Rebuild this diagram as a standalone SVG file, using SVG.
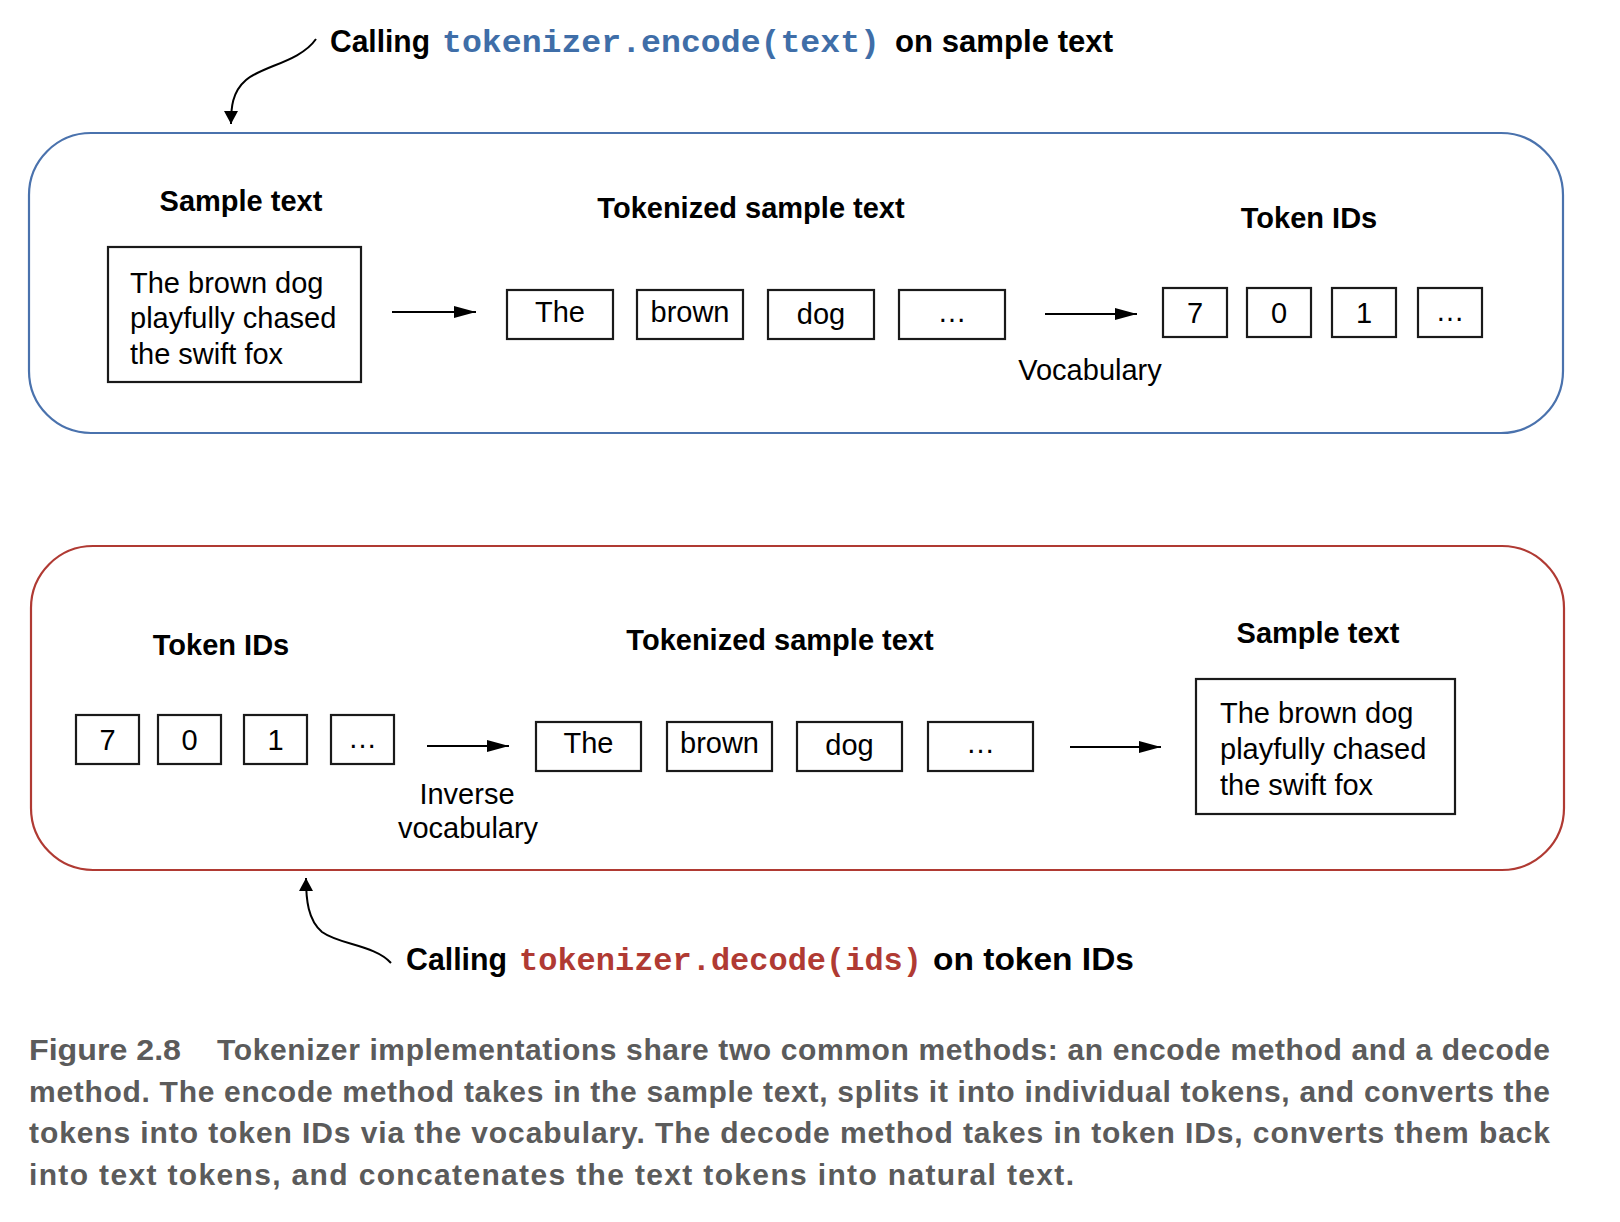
<svg xmlns="http://www.w3.org/2000/svg" width="1620" height="1222" viewBox="0 0 1620 1222">
<defs>
<style>
.bg{fill:#fff}
.pEnc{fill:none;stroke:#4a72ad;stroke-width:2.2}
.pDec{fill:none;stroke:#b03a33;stroke-width:2.2}
.box{fill:#fff;stroke:#1a1a1a;stroke-width:2.2}
.lbl{font-family:"Liberation Sans",Arial,sans-serif;font-size:29px;font-weight:bold;fill:#000;text-anchor:middle}
.tok{font-family:"Liberation Sans",Arial,sans-serif;font-size:29px;fill:#000;text-anchor:middle}
.body{font-family:"Liberation Sans",Arial,sans-serif;font-size:29px;fill:#000}
.conn{stroke:#000;stroke-width:2;fill:none}
.ann{font-family:"Liberation Sans",Arial,sans-serif;font-size:31px;font-weight:bold;fill:#000}
.code{font-family:"Liberation Mono","Courier New",monospace;font-size:32px;font-weight:bold}
.blue{fill:#3f6ea8}
.red{fill:#b03a33}
.cap{font-family:"Liberation Sans",Arial,sans-serif;font-size:30px;font-weight:bold;fill:#5b5b5b}
</style>
<marker id="ah" markerUnits="userSpaceOnUse" markerWidth="22" markerHeight="12" refX="22" refY="6" orient="auto">
<path d="M0,0 L22,6 L0,12 z" fill="#000"/>
</marker>
<marker id="ahc" markerUnits="userSpaceOnUse" markerWidth="13" markerHeight="14" refX="13" refY="7" orient="auto">
<path d="M0,0 L13,7 L0,14 z" fill="#000"/>
</marker>
</defs>
<rect class="bg" x="0" y="0" width="1620" height="1222"/>

<g id="encode-panel">
<rect class="pEnc" x="29" y="133" width="1534" height="300" rx="62" ry="62"/>
</g>
<g id="decode-panel">
<rect class="pDec" x="31" y="546" width="1533" height="324" rx="62" ry="62"/>
</g>

<g id="enc-annotation">
<text class="ann" x="330" y="52" textLength="100" lengthAdjust="spacingAndGlyphs">Calling</text>
<text class="code blue" x="442" y="52" textLength="438" lengthAdjust="spacingAndGlyphs">tokenizer.encode(text)</text>
<text class="ann" x="895" y="52" textLength="218" lengthAdjust="spacingAndGlyphs">on sample text</text>
</g>

<g id="enc-labels">
<text class="lbl" x="241" y="211">Sample text</text>
<text class="lbl" x="751" y="218">Tokenized sample text</text>
<text class="lbl" x="1309" y="228">Token IDs</text>
</g>

<g id="enc-sample">
<rect class="box" x="108" y="247" width="253" height="135"/>
<text class="body" x="130" y="293">The brown dog</text>
<text class="body" x="130" y="328">playfully chased</text>
<text class="body" x="130" y="364">the swift fox</text>
</g>

<g id="enc-tok-the"><rect class="box" x="507" y="290" width="106" height="49"/><text class="tok" x="560" y="322">The</text></g>
<g id="enc-tok-brown"><rect class="box" x="637" y="290" width="106" height="49"/><text class="tok" x="690" y="322">brown</text></g>
<g id="enc-tok-dog"><rect class="box" x="768" y="290" width="106" height="49"/><text class="tok" x="821" y="324">dog</text></g>
<g id="enc-tok-more"><rect class="box" x="899" y="290" width="106" height="49"/><text class="tok" x="952" y="322">…</text></g>

<g id="enc-id-7"><rect class="box" x="1163" y="288" width="64" height="49"/><text class="tok" x="1195" y="323">7</text></g>
<g id="enc-id-0"><rect class="box" x="1247" y="288" width="64" height="49"/><text class="tok" x="1279" y="323">0</text></g>
<g id="enc-id-1"><rect class="box" x="1332" y="288" width="64" height="49"/><text class="tok" x="1364" y="323">1</text></g>
<g id="enc-id-more"><rect class="box" x="1418" y="288" width="64" height="49"/><text class="tok" x="1450" y="321">…</text></g>

<g id="enc-vocab-label"><text class="tok" x="1090" y="380">Vocabulary</text></g>

<g id="dec-labels">
<text class="lbl" x="221" y="655">Token IDs</text>
<text class="lbl" x="780" y="650">Tokenized sample text</text>
<text class="lbl" x="1318" y="643">Sample text</text>
</g>

<g id="dec-id-7"><rect class="box" x="76" y="715" width="63" height="49"/><text class="tok" x="107.5" y="750">7</text></g>
<g id="dec-id-0"><rect class="box" x="158" y="715" width="63" height="49"/><text class="tok" x="189.5" y="750">0</text></g>
<g id="dec-id-1"><rect class="box" x="244" y="715" width="63" height="49"/><text class="tok" x="275.5" y="750">1</text></g>
<g id="dec-id-more"><rect class="box" x="331" y="715" width="63" height="49"/><text class="tok" x="362.5" y="748">…</text></g>

<g id="dec-inv-label">
<text class="tok" x="467" y="804">Inverse</text>
<text class="tok" x="468" y="838">vocabulary</text>
</g>

<g id="dec-tok-the"><rect class="box" x="536" y="722" width="105" height="49"/><text class="tok" x="588.5" y="753">The</text></g>
<g id="dec-tok-brown"><rect class="box" x="667" y="722" width="105" height="49"/><text class="tok" x="719.5" y="753">brown</text></g>
<g id="dec-tok-dog"><rect class="box" x="797" y="722" width="105" height="49"/><text class="tok" x="849.5" y="755">dog</text></g>
<g id="dec-tok-more"><rect class="box" x="928" y="722" width="105" height="49"/><text class="tok" x="980.5" y="753">…</text></g>

<g id="dec-sample">
<rect class="box" x="1196" y="679" width="259" height="135"/>
<text class="body" x="1220" y="723">The brown dog</text>
<text class="body" x="1220" y="759">playfully chased</text>
<text class="body" x="1220" y="795">the swift fox</text>
</g>

<g id="dec-annotation">
<text class="ann" x="406" y="970" textLength="101" lengthAdjust="spacingAndGlyphs">Calling</text>
<text class="code red" x="519" y="970" textLength="403" lengthAdjust="spacingAndGlyphs">tokenizer.decode(ids)</text>
<text class="ann" x="933" y="970" textLength="201" lengthAdjust="spacingAndGlyphs">on token IDs</text>
</g>

<g id="connectors">
<path class="conn" d="M316,39 C300,62 262,66 246,80 C232,92 231,108 231,124" marker-end="url(#ahc)"/>
<line class="conn" x1="392" y1="312" x2="476" y2="312" marker-end="url(#ah)"/>
<line class="conn" x1="1045" y1="314" x2="1137" y2="314" marker-end="url(#ah)"/>
<line class="conn" x1="427" y1="746" x2="509" y2="746" marker-end="url(#ah)"/>
<line class="conn" x1="1070" y1="747" x2="1161" y2="747" marker-end="url(#ah)"/>
<path class="conn" d="M391,963 C375,945 340,945 322,932 C308,920 306,900 306,878" marker-end="url(#ahc)"/>
</g>

<g id="caption">
<text class="cap" x="29" y="1060" textLength="152" lengthAdjust="spacingAndGlyphs">Figure 2.8</text>
<text class="cap" x="217" y="1060" textLength="1333" lengthAdjust="spacing">Tokenizer implementations share two common methods: an encode method and a decode</text>
<text class="cap" x="29" y="1102" textLength="1521" lengthAdjust="spacing">method. The encode method takes in the sample text, splits it into individual tokens, and converts the</text>
<text class="cap" x="29" y="1143" textLength="1521" lengthAdjust="spacing">tokens into token IDs via the vocabulary. The decode method takes in token IDs, converts them back</text>
<text class="cap" x="29" y="1185" textLength="1045" lengthAdjust="spacing">into text tokens, and concatenates the text tokens into natural text.</text>
</g>
</svg>
